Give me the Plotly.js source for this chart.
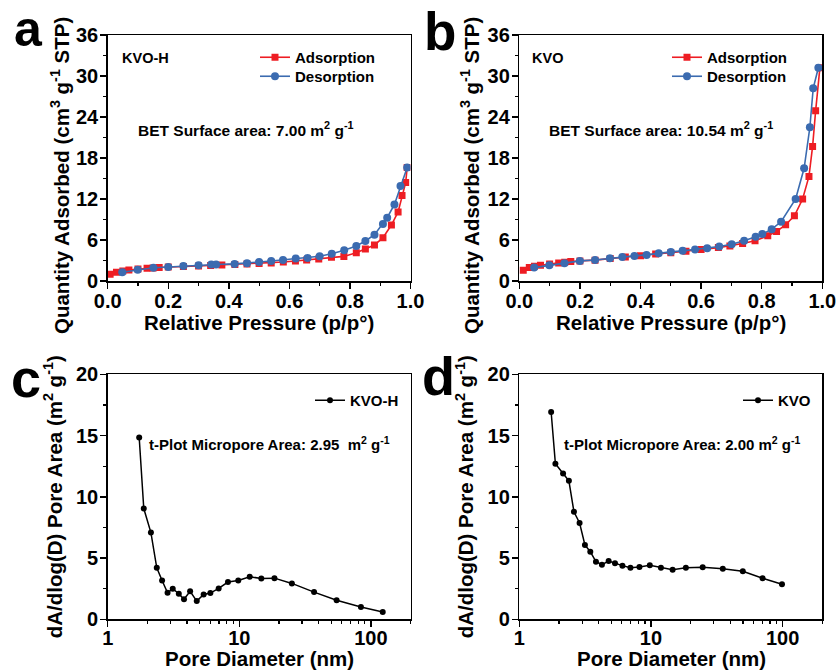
<!DOCTYPE html>
<html>
<head>
<meta charset="utf-8">
<script src="https://cdn.plot.ly/plotly-3.0.1.min.js"></script>
<style>html,body{margin:0;padding:0;background:#fff;}#chart{width:839px;height:671px;}</style>
</head>
<body>
<div id="chart"></div>
<script>
// Panel a: KVO-H isotherm
const aAdsP = [0.008, 0.029, 0.05, 0.07, 0.1, 0.13, 0.15, 0.17, 0.2, 0.25, 0.3, 0.34, 0.377, 0.42, 0.46, 0.5, 0.54, 0.58, 0.62, 0.657, 0.697, 0.739, 0.78, 0.821, 0.851, 0.881, 0.909, 0.937, 0.959, 0.972, 0.984, 0.989];
const aAdsQ = [0.98, 1.27, 1.45, 1.6, 1.75, 1.85, 1.92, 1.97, 2.05, 2.12, 2.2, 2.27, 2.34, 2.4, 2.48, 2.55, 2.65, 2.78, 2.93, 3.07, 3.22, 3.46, 3.6, 4.14, 4.68, 5.27, 6.34, 8.19, 10.1, 12.5, 14.4, 16.6];
const aDesP = [0.048, 0.099, 0.151, 0.2, 0.25, 0.3, 0.342, 0.358, 0.419, 0.46, 0.5, 0.54, 0.579, 0.621, 0.66, 0.7, 0.74, 0.781, 0.821, 0.851, 0.881, 0.909, 0.923, 0.947, 0.967, 0.989];
const aDesQ = [1.27, 1.66, 1.95, 2.05, 2.19, 2.3, 2.4, 2.42, 2.5, 2.6, 2.78, 2.93, 3.08, 3.28, 3.38, 3.62, 3.98, 4.49, 5.12, 5.85, 6.78, 8.34, 9.26, 11.2, 13.9, 16.6];
// Panel b: KVO isotherm
const bAdsP = [0.013, 0.033, 0.05, 0.07, 0.1, 0.13, 0.15, 0.17, 0.2, 0.25, 0.3, 0.35, 0.4, 0.45, 0.5, 0.55, 0.6, 0.657, 0.695, 0.737, 0.778, 0.82, 0.849, 0.879, 0.908, 0.935, 0.956, 0.968, 0.978, 0.992];
const bAdsQ = [1.57, 1.96, 2.15, 2.3, 2.5, 2.65, 2.75, 2.85, 2.94, 3.05, 3.3, 3.5, 3.7, 3.95, 4.15, 4.35, 4.6, 4.89, 5.14, 5.48, 5.88, 6.61, 7.24, 8.23, 9.55, 12.0, 15.3, 19.7, 24.9, 31.2];
const bDesP = [0.049, 0.099, 0.149, 0.2, 0.25, 0.299, 0.34, 0.38, 0.42, 0.46, 0.5, 0.539, 0.58, 0.62, 0.66, 0.701, 0.742, 0.78, 0.802, 0.833, 0.864, 0.912, 0.94, 0.959, 0.97, 0.987];
const bDesQ = [1.96, 2.3, 2.6, 2.94, 3.08, 3.33, 3.52, 3.67, 3.82, 4.06, 4.26, 4.41, 4.6, 4.8, 5.04, 5.39, 5.88, 6.46, 6.86, 7.59, 8.67, 12.0, 16.5, 22.5, 28.2, 31.2];
// Panel c: KVO-H pore area distribution
const cD = [1.735, 1.88, 2.13, 2.36, 2.59, 2.85, 3.12, 3.47, 3.8, 4.23, 4.75, 5.36, 6.03, 6.97, 8.2, 9.82, 12.0, 14.7, 18.5, 25.1, 37.0, 54.9, 84.0, 123];
const cA = [14.84, 9.04, 7.08, 4.2, 3.17, 2.17, 2.5, 2.09, 1.63, 2.28, 1.49, 2.03, 2.14, 2.52, 3.04, 3.17, 3.47, 3.34, 3.36, 2.93, 2.22, 1.55, 1.0, 0.6];
// Panel d: KVO pore area distribution
const dD = [1.745, 1.88, 2.15, 2.38, 2.6, 2.87, 3.15, 3.46, 3.82, 4.24, 4.77, 5.33, 6.07, 6.98, 8.17, 9.8, 11.9, 14.6, 18.4, 24.7, 35.1, 49.8, 70.4, 98.8];
const dA = [16.92, 12.7, 11.9, 11.3, 8.78, 7.86, 6.07, 5.52, 4.7, 4.46, 4.76, 4.57, 4.38, 4.21, 4.27, 4.41, 4.21, 4.05, 4.21, 4.24, 4.13, 3.92, 3.35, 2.86];

const RED = '#EE1D23', BLUE = '#3B6BB0', BLACK = '#000000';
const FONT = 'Liberation Sans, Arial, sans-serif';
const W = 839, H = 671;
const px = v => v / W;
const py = v => 1 - v / H;

const traces = [
  {x: aAdsP, y: aAdsQ, xaxis: 'x', yaxis: 'y', name: 'Adsorption', legend: 'legend', mode: 'lines+markers',
   line: {color: RED, width: 1.6}, marker: {symbol: 'square', size: 7, color: RED}},
  {x: aDesP, y: aDesQ, xaxis: 'x', yaxis: 'y', name: 'Desorption', legend: 'legend5', mode: 'lines+markers',
   line: {color: BLUE, width: 1.6}, marker: {symbol: 'circle', size: 8, color: BLUE}},
  {x: bAdsP, y: bAdsQ, xaxis: 'x2', yaxis: 'y2', name: 'Adsorption', legend: 'legend2', mode: 'lines+markers',
   line: {color: RED, width: 1.6}, marker: {symbol: 'square', size: 7, color: RED}},
  {x: bDesP, y: bDesQ, xaxis: 'x2', yaxis: 'y2', name: 'Desorption', legend: 'legend6', mode: 'lines+markers',
   line: {color: BLUE, width: 1.6}, marker: {symbol: 'circle', size: 8, color: BLUE}},
  {x: cD, y: cA, xaxis: 'x3', yaxis: 'y3', name: 'KVO-H', legend: 'legend3', mode: 'lines+markers',
   line: {color: BLACK, width: 1.5}, marker: {symbol: 'circle', size: 6, color: BLACK}},
  {x: dD, y: dA, xaxis: 'x4', yaxis: 'y4', name: 'KVO', legend: 'legend4', mode: 'lines+markers',
   line: {color: BLACK, width: 1.5}, marker: {symbol: 'circle', size: 6, color: BLACK}}
];

const tickFont = {family: FONT, size: 20, color: '#000', weight: 'bold'};
const titleSize = 20.5;
function axBase(extra) {
  return Object.assign({
    showline: true, linecolor: '#000', linewidth: 1.5, mirror: true,
    ticks: 'outside', ticklen: 6, tickwidth: 1.5, tickcolor: '#000',
    showgrid: false, zeroline: false, tickfont: tickFont, automargin: false
  }, extra);
}

const xLin = (dom, anchor) => axBase({domain: dom, anchor: anchor, range: [0, 1], dtick: 0.2, tick0: 0, tickformat: '.1f',
  ticklabelstandoff: -5,
  minor: {ticks: 'outside', ticklen: 3, tickwidth: 1.2, tickcolor: '#000', dtick: 0.1}});
const yLin = (dom, anchor) => axBase({domain: dom, anchor: anchor, range: [0, 36], dtick: 6, tick0: 0,
  ticklabelstandoff: -2,
  minor: {ticks: 'outside', ticklen: 3, tickwidth: 1.2, tickcolor: '#000', dtick: 3}});
const xLog = (dom, anchor) => axBase({domain: dom, anchor: anchor, type: 'log', range: [0, Math.log10(200)], dtick: 1,
  ticklabelstandoff: -6,
  minor: {ticks: 'outside', ticklen: 3, tickwidth: 1.2, tickcolor: '#000', dtick: 'D1'}});
const yPore = (dom, anchor) => axBase({domain: dom, anchor: anchor, range: [0, 20], dtick: 5, tick0: 0,
  ticklabelstandoff: -2,
  minor: {ticks: 'outside', ticklen: 3, tickwidth: 1.2, tickcolor: '#000', dtick: 2.5},
  title: {text: 'dA/dlog(D) Pore Area (m<sup>2</sup> g<sup>-1</sup>)',
          font: {family: FONT, size: titleSize, color: '#000', weight: 'bold'}, standoff: 8}});

const topY = [py(281), py(35)];
const botYc = [py(619.3), py(374.3)];
const botYd = [py(619.3), py(374.3)];
const leftX = [px(107.7), px(410.5)];
const rightX = [px(519.3), px(822.3)];

const legendBase = (x, y) => ({x: x, y: y, xref: 'paper', yref: 'paper', xanchor: 'left', yanchor: 'top',
  bgcolor: 'rgba(0,0,0,0)', borderwidth: 0, font: {family: FONT, size: 15, color: '#000', weight: 'bold'},
  tracegroupgap: 0, itemwidth: 30});

const ann = (x, y, text, size, extra) => Object.assign({x: x, y: y, xref: 'paper', yref: 'paper', text: text,
  showarrow: false, xanchor: 'left', yanchor: 'middle',
  font: {family: FONT, size: size, color: '#000', weight: 'bold'}}, extra || {});

const layout = {
  width: W, height: H,
  margin: {l: 0, r: 0, t: 0, b: 0},
  paper_bgcolor: '#fff', plot_bgcolor: '#fff',
  font: {family: FONT, color: '#000'},
  showlegend: true,
  xaxis: xLin(leftX, 'y'),
  yaxis: yLin(topY, 'x'),
  xaxis2: xLin(rightX, 'y2'),
  yaxis2: yLin(topY, 'x2'),
  xaxis3: xLog(leftX, 'y3'),
  yaxis3: yPore(botYc, 'x3'),
  xaxis4: xLog(rightX, 'y4'),
  yaxis4: yPore(botYd, 'x4'),
  legend: legendBase(px(255), py(41)),
  legend5: legendBase(px(255), py(60)),
  legend2: legendBase(px(667), py(41)),
  legend6: legendBase(px(667), py(60)),
  legend3: legendBase(px(310), py(384)),
  legend4: legendBase(px(738), py(384)),
  annotations: [
    ann(px(60), py(176), 'Quantity Adsorbed (cm<sup>3</sup> g<sup>-1</sup> STP)', titleSize, {textangle: -90, xanchor: 'center'}),
    ann(px(470), py(176), 'Quantity Adsorbed (cm<sup>3</sup> g<sup>-1</sup> STP)', titleSize, {textangle: -90, xanchor: 'center'}),
    ann(px(259), py(322), 'Relative Pressure (p/p°)', titleSize, {xanchor: 'center'}),
    ann(px(671), py(322), 'Relative Pressure (p/p°)', titleSize, {xanchor: 'center'}),
    ann(px(259), py(658), 'Pore Diameter (nm)', titleSize, {xanchor: 'center'}),
    ann(px(671), py(658), 'Pore Diameter (nm)', titleSize, {xanchor: 'center'}),
    ann(px(120), py(58), 'KVO-H', 14.5),
    ann(px(530), py(58), 'KVO', 14.5),
    ann(px(136), py(129), 'BET Surface area: 7.00 m<sup>2</sup> g<sup>-1</sup>', 15.5),
    ann(px(547), py(129), 'BET Surface area: 10.54 m<sup>2</sup> g<sup>-1</sup>', 15.5),
    ann(px(147), py(443), 't-Plot Micropore Area: 2.95&nbsp; m<sup>2</sup> g<sup>-1</sup>', 15),
    ann(px(562), py(443), 't-Plot Micropore Area: 2.00 m<sup>2</sup> g<sup>-1</sup>', 15),
    ann(px(28), py(29), 'a', 50, {xanchor: 'center'}),
    ann(px(440), py(32), 'b', 53, {xanchor: 'center'}),
    ann(px(26), py(378), 'c', 54, {xanchor: 'center'}),
    ann(px(438), py(376), 'd', 54, {xanchor: 'center'})
  ]
};

Plotly.newPlot('chart', traces, layout, {displayModeBar: false, staticPlot: true});
</script>
</body>
</html>
